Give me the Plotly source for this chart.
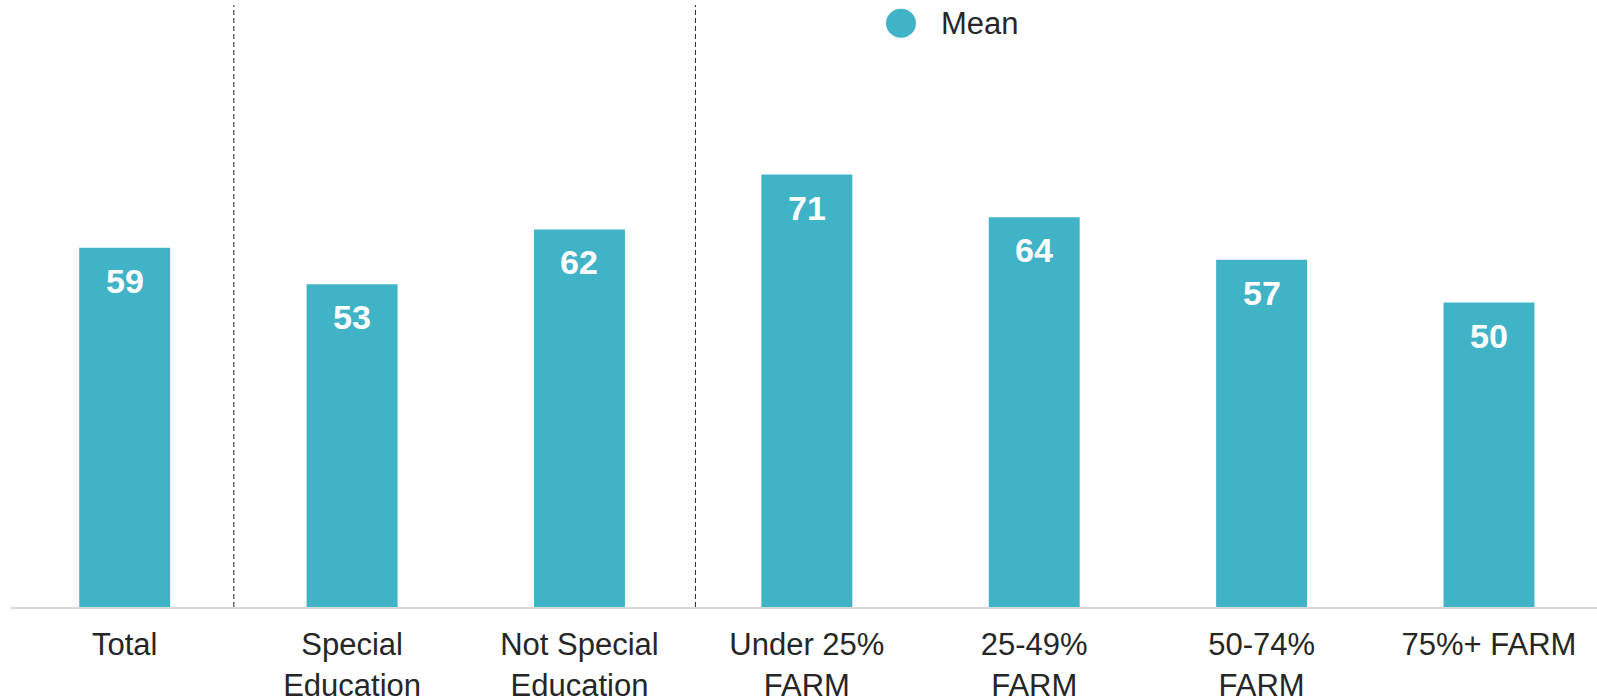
import plotly.graph_objects as go

categories = ["Total", "Special<br>Education", "Not Special<br>Education",
              "Under 25%<br>FARM", "25-49%<br>FARM", "50-74%<br>FARM", "75%+ FARM"]
mean_values = [59, 53, 62, 71, 64, 57, 50]
series_name = "Mean"
divider_positions = [0.48, 2.51]

BAR_COLOR = "#41B3C6"
TEXT_COLOR = "#262626"
FONT = "Liberation Sans, Arial, sans-serif"

fig = go.Figure()
fig.add_trace(go.Bar(
    x=list(range(len(categories))),
    y=mean_values,
    name=series_name,
    marker=dict(color=BAR_COLOR, line=dict(width=0)),
    showlegend=False,
    hoverinfo="y",
))

annotations = []
for i, v in enumerate(mean_values):
    annotations.append(dict(
        x=i, y=v, xref="x", yref="y", text=f"<b>{v}</b>", showarrow=False,
        yanchor="middle", yshift=-33,
        font=dict(family=FONT, size=34, color="white"),
    ))

shapes = []
for d in divider_positions:
    shapes.append(dict(
        type="line", xref="x", yref="paper", x0=d, x1=d, y0=0, y1=1,
        line=dict(color="#222222", width=1, dash="5px,3px"),
    ))

# manual legend (circle marker + label)
leg_x = (901 - 11) / 1586
leg_y = (607 - 23.3) / 602
shapes.append(dict(
    type="circle", xref="paper", yref="paper",
    xsizemode="pixel", ysizemode="pixel",
    xanchor=leg_x, yanchor=leg_y, x0=-15, x1=15, y0=-14.5, y1=14.5,
    fillcolor=BAR_COLOR, line=dict(width=0),
))
annotations.append(dict(
    x=(939 - 11) / 1586, y=leg_y, xref="paper", yref="paper",
    text=series_name, showarrow=False, xanchor="left", yanchor="middle",
    font=dict(family=FONT, size=31, color=TEXT_COLOR),
))

fig.update_layout(
    width=1597, height=696,
    margin=dict(l=11, r=0, t=5, b=89),
    paper_bgcolor="white", plot_bgcolor="white",
    bargap=0.6,
    font=dict(family=FONT, color=TEXT_COLOR),
    xaxis=dict(
        tickmode="array", tickvals=list(range(len(categories))), ticktext=categories,
        range=[-0.5, 6.475], showgrid=False, zeroline=False,
        showline=True, linecolor="#D9D9D9", linewidth=2,
        ticks="", ticklabelstandoff=9, automargin=False,
        tickfont=dict(family=FONT, size=31, color=TEXT_COLOR),
    ),
    yaxis=dict(range=[0, 98.85], visible=False, showgrid=False, zeroline=False,
               automargin=False),
    shapes=shapes,
    annotations=annotations,
)

fig.write_html(
    "out.html",
    config={"displayModeBar": False},
    post_script="document.body.style.margin='0';document.body.style.overflow='hidden';",
)
